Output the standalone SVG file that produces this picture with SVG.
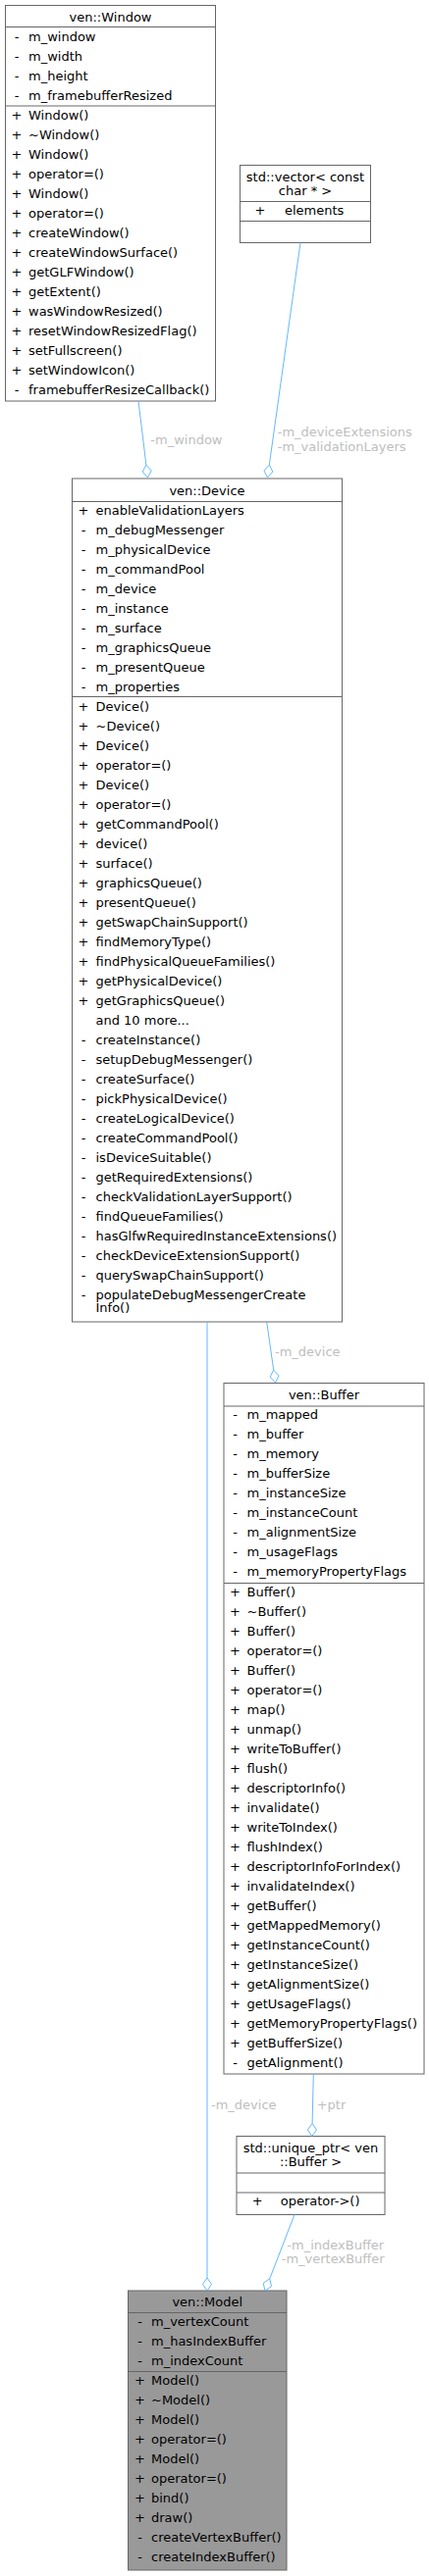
<svg xmlns="http://www.w3.org/2000/svg" width="437" height="2627" viewBox="0 0 437 2627">
<style>
text{font-family:"DejaVu Sans","Liberation Sans",sans-serif;font-size:13px;fill:#000}
.box{fill:#fff;stroke:#666;stroke-width:1}
.hl .box{fill:#999}
.sep{stroke:#666;stroke-width:1}
.c{text-anchor:middle}
.edge path{stroke:#63b8ff;stroke-width:1;fill:none}
.edge polygon{stroke:#63b8ff;stroke-width:1;fill:none}
.lbl{fill:#bebebe}
</style>
<rect width="437" height="2627" fill="#fff"/>

<g id="Window">
<rect class="box" x="5.5" y="5.5" width="214" height="403.5"/>
<line class="sep" x1="5.5" y1="27.5" x2="219.5" y2="27.5"/>
<line class="sep" x1="5.5" y1="108" x2="219.5" y2="108"/>
<text class="c" x="112.5" y="21.5">ven::Window</text>
<text class="c" x="17" y="41.5">-</text><text x="29" y="41.5">m_window</text>
<text class="c" x="17" y="61.5">-</text><text x="29" y="61.5">m_width</text>
<text class="c" x="17" y="81.5">-</text><text x="29" y="81.5">m_height</text>
<text class="c" x="17" y="101.5">-</text><text x="29" y="101.5">m_framebufferResized</text>
<text class="c" x="17" y="122">+</text><text x="29" y="122">Window()</text>
<text class="c" x="17" y="142">+</text><text x="29" y="142">~Window()</text>
<text class="c" x="17" y="162">+</text><text x="29" y="162">Window()</text>
<text class="c" x="17" y="182">+</text><text x="29" y="182">operator=()</text>
<text class="c" x="17" y="202">+</text><text x="29" y="202">Window()</text>
<text class="c" x="17" y="222">+</text><text x="29" y="222">operator=()</text>
<text class="c" x="17" y="242">+</text><text x="29" y="242">createWindow()</text>
<text class="c" x="17" y="262">+</text><text x="29" y="262">createWindowSurface()</text>
<text class="c" x="17" y="282">+</text><text x="29" y="282">getGLFWindow()</text>
<text class="c" x="17" y="302">+</text><text x="29" y="302">getExtent()</text>
<text class="c" x="17" y="322">+</text><text x="29" y="322">wasWindowResized()</text>
<text class="c" x="17" y="342">+</text><text x="29" y="342">resetWindowResizedFlag()</text>
<text class="c" x="17" y="362">+</text><text x="29" y="362">setFullscreen()</text>
<text class="c" x="17" y="382">+</text><text x="29" y="382">setWindowIcon()</text>
<text class="c" x="17" y="402">-</text><text x="29" y="402">framebufferResizeCallback()</text>
</g>

<g id="Vector">
<rect class="box" x="244.5" y="168.5" width="133" height="79"/>
<line class="sep" x1="244.5" y1="205.5" x2="377.5" y2="205.5"/>
<line class="sep" x1="244.5" y1="225.5" x2="377.5" y2="225.5"/>
<text class="c" x="311" y="184.5">std::vector&lt; const</text>
<text class="c" x="311" y="199">char * &gt;</text>
<text class="c" x="265" y="218.5">+</text><text x="290" y="218.5">elements</text>
</g>

<g id="Device">
<rect class="box" x="73.5" y="488" width="275" height="860"/>
<line class="sep" x1="73.5" y1="511.5" x2="348.5" y2="511.5"/>
<line class="sep" x1="73.5" y1="710.5" x2="348.5" y2="710.5"/>
<text class="c" x="211" y="504.5">ven::Device</text>
<text class="c" x="85" y="525">+</text><text x="97.5" y="525">enableValidationLayers</text>
<text class="c" x="85" y="545">-</text><text x="97.5" y="545">m_debugMessenger</text>
<text class="c" x="85" y="565">-</text><text x="97.5" y="565">m_physicalDevice</text>
<text class="c" x="85" y="585">-</text><text x="97.5" y="585">m_commandPool</text>
<text class="c" x="85" y="605">-</text><text x="97.5" y="605">m_device</text>
<text class="c" x="85" y="625">-</text><text x="97.5" y="625">m_instance</text>
<text class="c" x="85" y="645">-</text><text x="97.5" y="645">m_surface</text>
<text class="c" x="85" y="665">-</text><text x="97.5" y="665">m_graphicsQueue</text>
<text class="c" x="85" y="685">-</text><text x="97.5" y="685">m_presentQueue</text>
<text class="c" x="85" y="705">-</text><text x="97.5" y="705">m_properties</text>
<text class="c" x="85" y="724.5">+</text><text x="97.5" y="724.5">Device()</text>
<text class="c" x="85" y="744.5">+</text><text x="97.5" y="744.5">~Device()</text>
<text class="c" x="85" y="764.5">+</text><text x="97.5" y="764.5">Device()</text>
<text class="c" x="85" y="784.5">+</text><text x="97.5" y="784.5">operator=()</text>
<text class="c" x="85" y="804.5">+</text><text x="97.5" y="804.5">Device()</text>
<text class="c" x="85" y="824.5">+</text><text x="97.5" y="824.5">operator=()</text>
<text class="c" x="85" y="844.5">+</text><text x="97.5" y="844.5">getCommandPool()</text>
<text class="c" x="85" y="864.5">+</text><text x="97.5" y="864.5">device()</text>
<text class="c" x="85" y="884.5">+</text><text x="97.5" y="884.5">surface()</text>
<text class="c" x="85" y="904.5">+</text><text x="97.5" y="904.5">graphicsQueue()</text>
<text class="c" x="85" y="924.5">+</text><text x="97.5" y="924.5">presentQueue()</text>
<text class="c" x="85" y="944.5">+</text><text x="97.5" y="944.5">getSwapChainSupport()</text>
<text class="c" x="85" y="964.5">+</text><text x="97.5" y="964.5">findMemoryType()</text>
<text class="c" x="85" y="984.5">+</text><text x="97.5" y="984.5">findPhysicalQueueFamilies()</text>
<text class="c" x="85" y="1004.5">+</text><text x="97.5" y="1004.5">getPhysicalDevice()</text>
<text class="c" x="85" y="1024.5">+</text><text x="97.5" y="1024.5">getGraphicsQueue()</text>
<text x="97.5" y="1044.5">and 10 more...</text>
<text class="c" x="85" y="1064.5">-</text><text x="97.5" y="1064.5">createInstance()</text>
<text class="c" x="85" y="1084.5">-</text><text x="97.5" y="1084.5">setupDebugMessenger()</text>
<text class="c" x="85" y="1104.5">-</text><text x="97.5" y="1104.5">createSurface()</text>
<text class="c" x="85" y="1124.5">-</text><text x="97.5" y="1124.5">pickPhysicalDevice()</text>
<text class="c" x="85" y="1144.5">-</text><text x="97.5" y="1144.5">createLogicalDevice()</text>
<text class="c" x="85" y="1164.5">-</text><text x="97.5" y="1164.5">createCommandPool()</text>
<text class="c" x="85" y="1184.5">-</text><text x="97.5" y="1184.5">isDeviceSuitable()</text>
<text class="c" x="85" y="1204.5">-</text><text x="97.5" y="1204.5">getRequiredExtensions()</text>
<text class="c" x="85" y="1224.5">-</text><text x="97.5" y="1224.5">checkValidationLayerSupport()</text>
<text class="c" x="85" y="1244.5">-</text><text x="97.5" y="1244.5">findQueueFamilies()</text>
<text class="c" x="85" y="1264.5">-</text><text x="97.5" y="1264.5">hasGlfwRequiredInstanceExtensions()</text>
<text class="c" x="85" y="1284.5">-</text><text x="97.5" y="1284.5">checkDeviceExtensionSupport()</text>
<text class="c" x="85" y="1304.5">-</text><text x="97.5" y="1304.5">querySwapChainSupport()</text>
<text class="c" x="85" y="1324.5">-</text><text x="97.5" y="1324.5">populateDebugMessengerCreate</text>
<text x="97.5" y="1338">Info()</text>
</g>

<g id="Buffer">
<rect class="box" x="228" y="1410.5" width="204" height="704.5"/>
<line class="sep" x1="228" y1="1434" x2="432" y2="1434"/>
<line class="sep" x1="228" y1="1614.5" x2="432" y2="1614.5"/>
<text class="c" x="330" y="1426.5">ven::Buffer</text>
<text class="c" x="239.5" y="1447">-</text><text x="251.5" y="1447">m_mapped</text>
<text class="c" x="239.5" y="1467">-</text><text x="251.5" y="1467">m_buffer</text>
<text class="c" x="239.5" y="1487">-</text><text x="251.5" y="1487">m_memory</text>
<text class="c" x="239.5" y="1507">-</text><text x="251.5" y="1507">m_bufferSize</text>
<text class="c" x="239.5" y="1527">-</text><text x="251.5" y="1527">m_instanceSize</text>
<text class="c" x="239.5" y="1547">-</text><text x="251.5" y="1547">m_instanceCount</text>
<text class="c" x="239.5" y="1567">-</text><text x="251.5" y="1567">m_alignmentSize</text>
<text class="c" x="239.5" y="1587">-</text><text x="251.5" y="1587">m_usageFlags</text>
<text class="c" x="239.5" y="1607">-</text><text x="251.5" y="1607">m_memoryPropertyFlags</text>
<text class="c" x="239.5" y="1628">+</text><text x="251.5" y="1628">Buffer()</text>
<text class="c" x="239.5" y="1648">+</text><text x="251.5" y="1648">~Buffer()</text>
<text class="c" x="239.5" y="1668">+</text><text x="251.5" y="1668">Buffer()</text>
<text class="c" x="239.5" y="1688">+</text><text x="251.5" y="1688">operator=()</text>
<text class="c" x="239.5" y="1708">+</text><text x="251.5" y="1708">Buffer()</text>
<text class="c" x="239.5" y="1728">+</text><text x="251.5" y="1728">operator=()</text>
<text class="c" x="239.5" y="1748">+</text><text x="251.5" y="1748">map()</text>
<text class="c" x="239.5" y="1768">+</text><text x="251.5" y="1768">unmap()</text>
<text class="c" x="239.5" y="1788">+</text><text x="251.5" y="1788">writeToBuffer()</text>
<text class="c" x="239.5" y="1808">+</text><text x="251.5" y="1808">flush()</text>
<text class="c" x="239.5" y="1828">+</text><text x="251.5" y="1828">descriptorInfo()</text>
<text class="c" x="239.5" y="1848">+</text><text x="251.5" y="1848">invalidate()</text>
<text class="c" x="239.5" y="1868">+</text><text x="251.5" y="1868">writeToIndex()</text>
<text class="c" x="239.5" y="1888">+</text><text x="251.5" y="1888">flushIndex()</text>
<text class="c" x="239.5" y="1908">+</text><text x="251.5" y="1908">descriptorInfoForIndex()</text>
<text class="c" x="239.5" y="1928">+</text><text x="251.5" y="1928">invalidateIndex()</text>
<text class="c" x="239.5" y="1948">+</text><text x="251.5" y="1948">getBuffer()</text>
<text class="c" x="239.5" y="1968">+</text><text x="251.5" y="1968">getMappedMemory()</text>
<text class="c" x="239.5" y="1988">+</text><text x="251.5" y="1988">getInstanceCount()</text>
<text class="c" x="239.5" y="2008">+</text><text x="251.5" y="2008">getInstanceSize()</text>
<text class="c" x="239.5" y="2028">+</text><text x="251.5" y="2028">getAlignmentSize()</text>
<text class="c" x="239.5" y="2048">+</text><text x="251.5" y="2048">getUsageFlags()</text>
<text class="c" x="239.5" y="2068">+</text><text x="251.5" y="2068">getMemoryPropertyFlags()</text>
<text class="c" x="239.5" y="2088">+</text><text x="251.5" y="2088">getBufferSize()</text>
<text class="c" x="239.5" y="2108">-</text><text x="251.5" y="2108">getAlignment()</text>
</g>

<g id="UniquePtr">
<rect class="box" x="241" y="2178.5" width="151" height="80"/>
<line class="sep" x1="241" y1="2216" x2="392" y2="2216"/>
<line class="sep" x1="241" y1="2236" x2="392" y2="2236"/>
<text class="c" x="316.5" y="2195">std::unique_ptr&lt; ven</text>
<text class="c" x="316.5" y="2209">::Buffer &gt;</text>
<text class="c" x="262.3" y="2249">+</text><text x="285.7" y="2249">operator-&gt;()</text>
</g>

<g id="Model" class="hl">
<rect class="box" x="130.5" y="2336" width="161.5" height="285"/>
<line class="sep" x1="130.5" y1="2358.5" x2="292" y2="2358.5"/>
<line class="sep" x1="130.5" y1="2418.5" x2="292" y2="2418.5"/>
<text class="c" x="211.25" y="2352">ven::Model</text>
<text class="c" x="142.5" y="2372">-</text><text x="154" y="2372">m_vertexCount</text>
<text class="c" x="142.5" y="2392">-</text><text x="154" y="2392">m_hasIndexBuffer</text>
<text class="c" x="142.5" y="2412">-</text><text x="154" y="2412">m_indexCount</text>
<text class="c" x="142.5" y="2432">+</text><text x="154" y="2432">Model()</text>
<text class="c" x="142.5" y="2452">+</text><text x="154" y="2452">~Model()</text>
<text class="c" x="142.5" y="2472">+</text><text x="154" y="2472">Model()</text>
<text class="c" x="142.5" y="2492">+</text><text x="154" y="2492">operator=()</text>
<text class="c" x="142.5" y="2512">+</text><text x="154" y="2512">Model()</text>
<text class="c" x="142.5" y="2532">+</text><text x="154" y="2532">operator=()</text>
<text class="c" x="142.5" y="2552">+</text><text x="154" y="2552">bind()</text>
<text class="c" x="142.5" y="2572">+</text><text x="154" y="2572">draw()</text>
<text class="c" x="142.5" y="2592">-</text><text x="154" y="2592">createVertexBuffer()</text>
<text class="c" x="142.5" y="2612">-</text><text x="154" y="2612">createIndexBuffer()</text>
</g>

<g id="connectors" class="edge">
<path d="M141,409 L148.9,474.1"/>
<polygon points="150.5,487 154.19,480.01 148.94,474.1 145.25,481.09"/>
<text class="lbl" x="153.3" y="452.8">-m_window</text>

<path d="M306,247.5 L274.3,474.1"/>
<polygon points="272.5,487 277.86,481.18 274.3,474.12 268.94,479.94"/>
<text class="lbl" x="282.7" y="445.2">-m_deviceExtensions</text>
<text class="lbl" x="282.7" y="460.2">-m_validationLayers</text>

<path d="M271.7,1348 L278.7,1397.1"/>
<polygon points="280.5,1410 284.06,1402.94 278.7,1397.12 275.14,1404.18"/>
<text class="lbl" x="280" y="1383.2">-m_device</text>

<path d="M211,1348 L211,2323"/>
<polygon points="211,2336 215.5,2329.5 211,2323 206.5,2329.5"/>
<text class="lbl" x="215" y="2151.2">-m_device</text>

<path d="M319.3,2115 L318.1,2165.5"/>
<polygon points="317.8,2178.5 322.45,2172.1 318.11,2165.5 313.45,2171.9"/>
<text class="lbl" x="322.7" y="2151.2">+ptr</text>

<path d="M300,2258.5 L274.7,2323.9"/>
<polygon points="270,2336 276.54,2331.56 274.68,2323.87 268.14,2328.32"/>
<text class="lbl" x="292.3" y="2293.5">-m_indexBuffer</text>
<text class="lbl" x="286.7" y="2307.8">-m_vertexBuffer</text>
</g>
</svg>
